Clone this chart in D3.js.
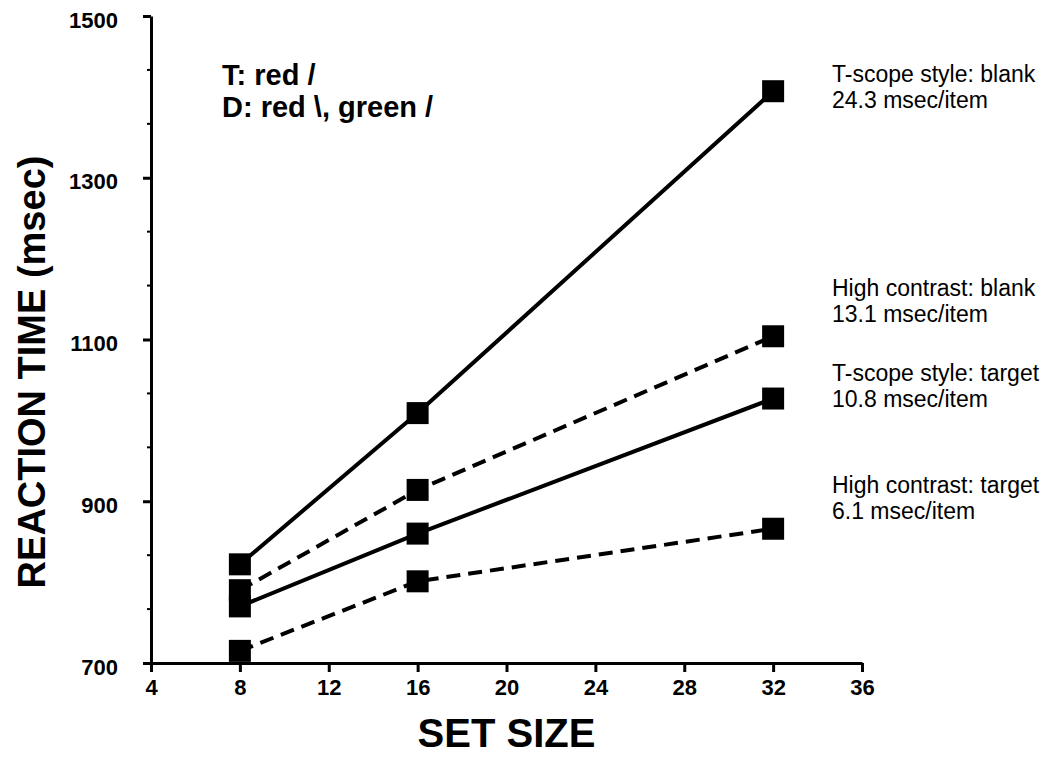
<!DOCTYPE html>
<html>
<head>
<meta charset="utf-8">
<script src="https://cdn.jsdelivr.net/npm/d3@7"></script>
<style>
  html, body { margin: 0; padding: 0; background: #fff; }
  svg { display: block; }
  text { font-family: "Liberation Sans", Arial, Helvetica, sans-serif; fill: #000; }
</style>
</head>
<body>
<svg id="chart" width="1060" height="758"></svg>
<script>
// ---- data ----
const setSizes = [8, 16, 32];
const tscopeBlank  = [822, 1009, 1407];
const highBlank    = [790, 914, 1104];
const tscopeTarget = [770, 860, 1027];
const highTarget   = [715, 801, 866];
const seriesNames = ["T-scope style: blank", "High contrast: blank", "T-scope style: target", "High contrast: target"];
const seriesSlopes = ["24.3 msec/item", "13.1 msec/item", "10.8 msec/item", "6.1 msec/item"];
const seriesDashed = [false, true, false, true];
const xTicks = [4, 8, 12, 16, 20, 24, 28, 32, 36];
const yTicks = [700, 900, 1100, 1300, 1500];
const yMinorTicks = [766.67, 833.33, 966.67, 1033.33, 1166.67, 1233.33, 1366.67, 1433.33];
const noteLines = ["T: red /", "D: red \\, green /"];
const xTitle = "SET SIZE";
const yTitle = "REACTION TIME (msec)";

const seriesValues = [tscopeBlank, highBlank, tscopeTarget, highTarget];

// ---- layout ----
const svg = d3.select("#chart");
const x = d3.scaleLinear().domain([4, 36]).range([151, 862]);
const y = d3.scaleLinear().domain([700, 1500]).range([663, 16]);

// x axis
const gx = svg.append("g").attr("transform", `translate(0,${y(700)})`)
  .call(d3.axisBottom(x).tickValues(xTicks).tickSize(9).tickSizeOuter(0).tickPadding(7).tickFormat(d3.format("d")));
gx.select(".domain").attr("stroke", "#000").attr("stroke-width", 3);
gx.selectAll(".tick line").attr("stroke", "#000").attr("stroke-width", 3);
gx.selectAll(".tick text").attr("font-size", 22).attr("font-weight", "bold").attr("fill", "#000")
  .attr("font-family", '"Liberation Sans", Arial, sans-serif');

// y axis
const gy = svg.append("g").attr("transform", `translate(${x(4)},0)`)
  .call(d3.axisLeft(y).tickValues(yTicks).tickSize(8).tickSizeOuter(0).tickPadding(25).tickFormat(d3.format("d")));
gy.select(".domain").attr("stroke", "#000").attr("stroke-width", 3);
gy.selectAll(".tick line").attr("stroke", "#000").attr("stroke-width", 3);
gy.selectAll(".tick text").attr("font-size", 22).attr("font-weight", "bold").attr("fill", "#000")
  .attr("dy", "0.5em")
  .attr("font-family", '"Liberation Sans", Arial, sans-serif');

// minor y ticks
svg.append("g").selectAll("line").data(yMinorTicks).join("line")
  .attr("x1", x(4) - 4).attr("x2", x(4))
  .attr("y1", d => y(d)).attr("y2", d => y(d))
  .attr("stroke", "#000").attr("stroke-width", 2);

// axis titles
svg.append("text").attr("x", (x(4) + x(36)) / 2).attr("y", 747)
  .attr("text-anchor", "middle").attr("font-size", 40).attr("font-weight", "bold").text(xTitle);
svg.append("text").attr("transform", `translate(45,372) rotate(-90)`)
  .attr("text-anchor", "middle").attr("font-size", 38).attr("font-weight", "bold").text(yTitle);

// note
svg.append("g").selectAll("text").data(noteLines).join("text")
  .attr("x", 222).attr("y", (d, i) => 85 + i * 32)
  .attr("font-size", 29).attr("font-weight", "bold").text(d => d);

// lines
const line = d3.line().x((d, i) => x(setSizes[i])).y(d => y(d));
svg.append("g").selectAll("path").data(seriesValues).join("path")
  .attr("d", d => line(d))
  .attr("fill", "none").attr("stroke", "#000").attr("stroke-width", 4)
  .attr("stroke-dasharray", (d, i) => seriesDashed[i] ? "14,8" : null);

// markers
const m = 22;
seriesValues.forEach(vals => {
  svg.append("g").selectAll("rect").data(vals).join("rect")
    .attr("x", (d, i) => x(setSizes[i]) - m / 2)
    .attr("y", d => y(d) - m / 2)
    .attr("width", m).attr("height", m).attr("fill", "#000");
});

// series labels
const labelY = [82, 296, 381, 493];
const lab = svg.append("g");
seriesNames.forEach((name, i) => {
  lab.append("text").attr("x", 832).attr("y", labelY[i]).attr("font-size", 23).text(name);
  lab.append("text").attr("x", 832).attr("y", labelY[i] + 26).attr("font-size", 23).text(seriesSlopes[i]);
});
</script>
</body>
</html>
